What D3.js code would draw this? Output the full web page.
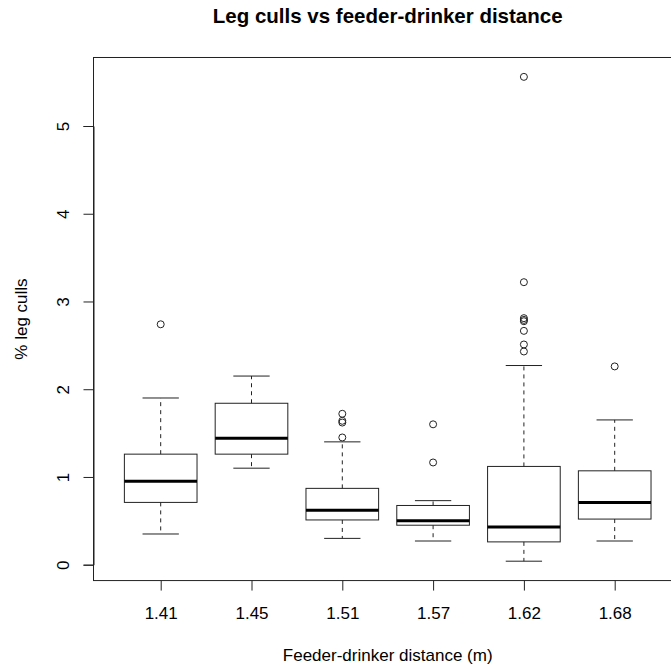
<!DOCTYPE html>
<html>
<head>
<meta charset="UTF-8">
<title>Leg culls vs feeder-drinker distance</title>
<script src="https://cdnjs.cloudflare.com/ajax/libs/d3/7.8.5/d3.min.js"></script>
<style>
html, body { margin: 0; padding: 0; background: #fff; overflow: hidden; }
svg { display: block; font-family: "Liberation Sans", Arial, sans-serif; }
</style>
</head>
<body>
<script>
// values
var categories = ["1.41", "1.45", "1.51", "1.57", "1.62", "1.68"];
var whiskerLow  = [0.35, 1.10, 0.30, 0.27, 0.04, 0.27];
var q1          = [0.71, 1.26, 0.51, 0.45, 0.26, 0.52];
var median      = [0.95, 1.44, 0.62, 0.50, 0.43, 0.71];
var q3          = [1.26, 1.84, 0.87, 0.675, 1.12, 1.07];
var whiskerHigh = [1.90, 2.15, 1.40, 0.73, 2.27, 1.65];
var outliers = [
  [2.74],
  [],
  [1.72, 1.64, 1.62, 1.45],
  [1.60, 1.165],
  [5.56, 3.22, 2.81, 2.79, 2.775, 2.665, 2.51, 2.43],
  [2.26]
];
var yTicks = [0, 1, 2, 3, 4, 5];

var width = 671, height = 669;
var axisFont = 17, titleFont = 20.5;

var svg = d3.select("body").append("svg")
    .attr("width", width)
    .attr("height", height);

var n = categories.length;
var x = d3.scaleLinear().domain([1, n]).range([160.7, 160.7 + 90.8 * (n - 1)]);
var y = d3.scaleLinear().domain([0, 5]).range([564.7, 126]);

// R style 4% extension of the ranges
var xlo = 0.5 - n * 0.04, xhi = n + 0.5 + n * 0.04;
var allVals = whiskerLow.concat(whiskerHigh, d3.merge(outliers));
var dmin = d3.min(allVals), dmax = d3.max(allVals);
var ext = (dmax - dmin) * 0.04;
var ylo = dmin - ext, yhi = dmax + ext;

var plotLeft = x(xlo), plotRight = x(xhi), plotTop = y(yhi), plotBottom = y(ylo);
var boxW = (x(2) - x(1)) * 0.8;
var stapleW = boxW / 2;
var ink = "#222";

// title
svg.append("text")
    .attr("x", (plotLeft + plotRight) / 2)
    .attr("y", 23)
    .attr("text-anchor", "middle")
    .attr("font-size", titleFont)
    .attr("font-weight", "bold")
    .text("Leg culls vs feeder-drinker distance");

var plot = svg.append("g");

var groups = plot.selectAll("g.box")
    .data(categories.map(function (c, i) { return i; }))
    .enter().append("g");

// dashed whiskers
groups.append("line")
    .attr("x1", function (i) { return x(i + 1); })
    .attr("x2", function (i) { return x(i + 1); })
    .attr("y1", function (i) { return y(q3[i]); })
    .attr("y2", function (i) { return y(whiskerHigh[i]); })
    .attr("stroke", ink).attr("stroke-dasharray", "4,4");
groups.append("line")
    .attr("x1", function (i) { return x(i + 1); })
    .attr("x2", function (i) { return x(i + 1); })
    .attr("y1", function (i) { return y(q1[i]); })
    .attr("y2", function (i) { return y(whiskerLow[i]); })
    .attr("stroke", ink).attr("stroke-dasharray", "4,4");

// staples
[whiskerHigh, whiskerLow].forEach(function (arr) {
  groups.append("line")
      .attr("x1", function (i) { return x(i + 1) - stapleW / 2; })
      .attr("x2", function (i) { return x(i + 1) + stapleW / 2; })
      .attr("y1", function (i) { return y(arr[i]); })
      .attr("y2", function (i) { return y(arr[i]); })
      .attr("stroke", ink);
});

// boxes
groups.append("rect")
    .attr("x", function (i) { return x(i + 1) - boxW / 2; })
    .attr("width", boxW)
    .attr("y", function (i) { return y(q3[i]); })
    .attr("height", function (i) { return y(q1[i]) - y(q3[i]); })
    .attr("fill", "none")
    .attr("stroke", ink);

// medians
groups.append("line")
    .attr("x1", function (i) { return x(i + 1) - boxW / 2; })
    .attr("x2", function (i) { return x(i + 1) + boxW / 2; })
    .attr("y1", function (i) { return y(median[i]); })
    .attr("y2", function (i) { return y(median[i]); })
    .attr("stroke", "#000")
    .attr("stroke-width", 3);

// outliers
groups.selectAll("circle")
    .data(function (i) { return outliers[i].map(function (v) { return { i: i, v: v }; }); })
    .enter().append("circle")
    .attr("cx", function (d) { return x(d.i + 1); })
    .attr("cy", function (d) { return y(d.v); })
    .attr("r", 3.5)
    .attr("fill", "none")
    .attr("stroke", ink);

// frame
svg.append("rect")
    .attr("x", plotLeft).attr("y", plotTop)
    .attr("width", plotRight - plotLeft).attr("height", plotBottom - plotTop)
    .attr("fill", "none").attr("stroke", ink);

// y axis
var yAxis = svg.append("g")
    .attr("transform", "translate(" + plotLeft + ",0)")
    .call(d3.axisLeft(y).tickValues(yTicks).tickSize(10).tickPadding(0).tickFormat(d3.format("d")));
yAxis.select(".domain").attr("stroke", ink);
yAxis.selectAll(".tick line").attr("stroke", ink);
yAxis.selectAll(".tick text")
    .attr("x", 0).attr("y", 0).attr("dy", null)
    .attr("text-anchor", "middle")
    .attr("transform", "translate(-25,0) rotate(-90)")
    .attr("font-size", axisFont)
    .attr("font-family", "Liberation Sans, Arial, sans-serif")
    .attr("fill", "#000");

// x axis
var xAxis = svg.append("g")
    .attr("transform", "translate(0," + plotBottom + ")")
    .call(d3.axisBottom(x).tickValues(d3.range(1, n + 1)).tickSize(10).tickPadding(0)
      .tickFormat(function (d) { return categories[d - 1]; }));
xAxis.select(".domain").remove();
xAxis.selectAll(".tick line").attr("stroke", ink);
xAxis.selectAll(".tick text")
    .attr("y", 38.3).attr("dy", null)
    .attr("font-size", axisFont)
    .attr("font-family", "Liberation Sans, Arial, sans-serif")
    .attr("fill", "#000");

// axis titles
svg.append("text")
    .attr("x", (plotLeft + plotRight) / 2)
    .attr("y", 661)
    .attr("text-anchor", "middle")
    .attr("font-size", axisFont)
    .text("Feeder-drinker distance (m)");

svg.append("text")
    .attr("transform", "translate(27," + (plotTop + plotBottom) / 2 + ") rotate(-90)")
    .attr("text-anchor", "middle")
    .attr("font-size", axisFont)
    .text("% leg culls");
</script>
</body>
</html>
